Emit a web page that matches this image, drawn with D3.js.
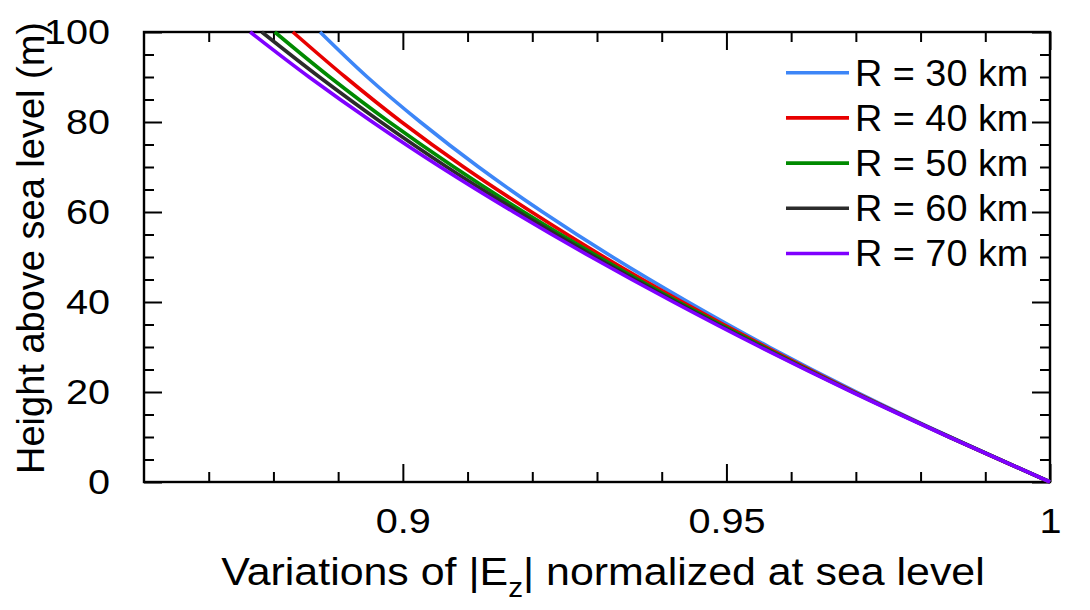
<!DOCTYPE html>
<html>
<head>
<meta charset="utf-8">
<script src="https://cdn.jsdelivr.net/npm/d3@7"></script>
<style>
  html, body { margin: 0; padding: 0; background: #fff; }
  svg text { font-family: Arial, "Liberation Sans", Helvetica, sans-serif; fill: #000; }
  .wide { transform-box: fill-box; transform-origin: center; }
</style>
</head>
<body>
<svg id="chart" width="1090" height="610"></svg>
<script>
// ---- data ----
const heights = [0, 10, 20, 30, 40, 50, 60, 70, 80, 90, 100];
const seriesNames = ["R = 30 km", "R = 40 km", "R = 50 km", "R = 60 km", "R = 70 km"];
const seriesColors = ["#3d86f7", "#e80000", "#008a00", "#2b2b2b", "#7f00ff"];
const r30 = [1, 0.9846, 0.9701, 0.9566, 0.9441, 0.9324, 0.9216, 0.9117, 0.9027, 0.8945, 0.8872];
const r40 = [1, 0.9845, 0.9698, 0.9561, 0.9432, 0.9311, 0.9199, 0.9094, 0.8998, 0.8911, 0.8830];
const r50 = [1, 0.9845, 0.9696, 0.9557, 0.9426, 0.9303, 0.9187, 0.9079, 0.8979, 0.8887, 0.8802];
const r60 = [1, 0.9844, 0.9695, 0.9554, 0.9422, 0.9297, 0.9179, 0.9068, 0.8966, 0.8871, 0.8782];
const r70 = [1, 0.9844, 0.9694, 0.9552, 0.9418, 0.9291, 0.9171, 0.9058, 0.8953, 0.8855, 0.8764];
const seriesValues = [r30, r40, r50, r60, r70];
const xMajorTicks = [0.9, 0.95, 1];
const xTickLabels = ["0.9", "0.95", "1"];
const xMinorTicks = [0.87, 0.88, 0.89, 0.91, 0.92, 0.93, 0.94, 0.96, 0.97, 0.98, 0.99];
const yMajorTicks = [0, 20, 40, 60, 80, 100];
const yMinorTicks = [5, 10, 15, 25, 30, 35, 45, 50, 55, 65, 70, 75, 85, 90, 95];
const xTitleMain = "Variations of |E";
const xTitleSub = "z";
const xTitleEnd = "| normalized at sea level";
const yTitle = "Height above sea level (m)";

// ---- layout ----
const svg = d3.select("#chart");
const m = { left: 144, top: 32, right: 40, bottom: 128 };
const W = 1090, H = 610;
const pw = W - m.left - m.right;   // 906
const ph = H - m.top - m.bottom;   // 450

const x = d3.scaleLinear().domain([0.86, 1]).range([m.left, m.left + pw]);
const y = d3.scaleLinear().domain([0, 100]).range([m.top + ph, m.top]);

const majorLen = 18, minorLen = 10;
const tickFont = 36;

function addAxis(axisGen, transform) {
  const g = svg.append("g").attr("transform", transform).call(axisGen);
  g.select(".domain").remove();
  g.selectAll(".tick line").attr("stroke", "#000").attr("stroke-width", 2);
  return g;
}
// bottom
const gxb = addAxis(d3.axisBottom(x).tickValues(xMajorTicks).tickSize(-majorLen).tickPadding(majorLen + 6)
  .tickFormat((d, i) => xTickLabels[i]), `translate(0,${m.top + ph})`);
gxb.selectAll("text").attr("font-size", tickFont).attr("dy", "0.75em").attr("fill", "#000")
  .attr("class", "wide").style("transform", "scaleX(1.1)");
addAxis(d3.axisBottom(x).tickValues(xMinorTicks).tickSize(-minorLen).tickFormat(""), `translate(0,${m.top + ph})`);
// top
addAxis(d3.axisTop(x).tickValues(xMajorTicks).tickSize(-majorLen).tickFormat(""), `translate(0,${m.top})`);
addAxis(d3.axisTop(x).tickValues(xMinorTicks).tickSize(-minorLen).tickFormat(""), `translate(0,${m.top})`);
// left
const gyl = addAxis(d3.axisLeft(y).tickValues(yMajorTicks).tickSize(-majorLen).tickPadding(majorLen + 16)
  .tickFormat(d3.format("d")), `translate(${m.left},0)`);
gyl.selectAll("text").attr("font-size", tickFont).attr("fill", "#000")
  .style("transform-box", "fill-box").style("transform-origin", "right center").style("transform", "scaleX(1.1)");
addAxis(d3.axisLeft(y).tickValues(yMinorTicks).tickSize(-minorLen).tickFormat(""), `translate(${m.left},0)`);
// right
addAxis(d3.axisRight(y).tickValues(yMajorTicks).tickSize(-majorLen).tickFormat(""), `translate(${m.left + pw},0)`);
addAxis(d3.axisRight(y).tickValues(yMinorTicks).tickSize(-minorLen).tickFormat(""), `translate(${m.left + pw},0)`);

// frame
svg.append("rect").attr("x", m.left).attr("y", m.top).attr("width", pw).attr("height", ph)
  .attr("fill", "none").attr("stroke", "#000").attr("stroke-width", 2.4);

// curves
svg.append("clipPath").attr("id", "clip").append("rect")
  .attr("x", m.left).attr("y", m.top - 2).attr("width", pw + 2).attr("height", ph + 4);
const line = d3.line().x(d => x(d[0])).y(d => y(d[1])).curve(d3.curveMonotoneY);
seriesValues.forEach((vals, i) => {
  svg.append("path")
    .datum(vals.map((v, j) => [v, heights[j]]))
    .attr("d", line)
    .attr("fill", "none")
    .attr("stroke", seriesColors[i])
    .attr("stroke-width", 3.6)
    .attr("stroke-linejoin", "round")
    .attr("clip-path", "url(#clip)");
});

// legend
const legY0 = 72.7, legDy = 45.2;
const leg = svg.append("g");
seriesNames.forEach((name, i) => {
  const cy = legY0 + i * legDy;
  leg.append("line").attr("x1", 786).attr("x2", 849).attr("y1", cy).attr("y2", cy)
    .attr("stroke", seriesColors[i]).attr("stroke-width", 3.6);
  leg.append("text").attr("x", 855).attr("y", cy).attr("dy", "0.36em")
    .attr("font-size", 36).text(name)
    .style("transform-box", "fill-box").style("transform-origin", "left center").style("transform", "scaleX(1.05)");
});

// x title
const xt = svg.append("text").attr("x", 603).attr("y", 585).attr("text-anchor", "middle")
  .attr("font-size", 39).attr("class", "wide").style("transform", "scaleX(1.1)");
xt.append("tspan").text(xTitleMain);
xt.append("tspan").attr("font-size", 27).attr("dy", 12).text(xTitleSub);
xt.append("tspan").attr("dy", -12).text(xTitleEnd);

// y title
svg.append("text").attr("transform", `translate(44,${248}) rotate(-90)`)
  .attr("text-anchor", "middle").attr("font-size", 38).text(yTitle);
</script>
</body>
</html>
